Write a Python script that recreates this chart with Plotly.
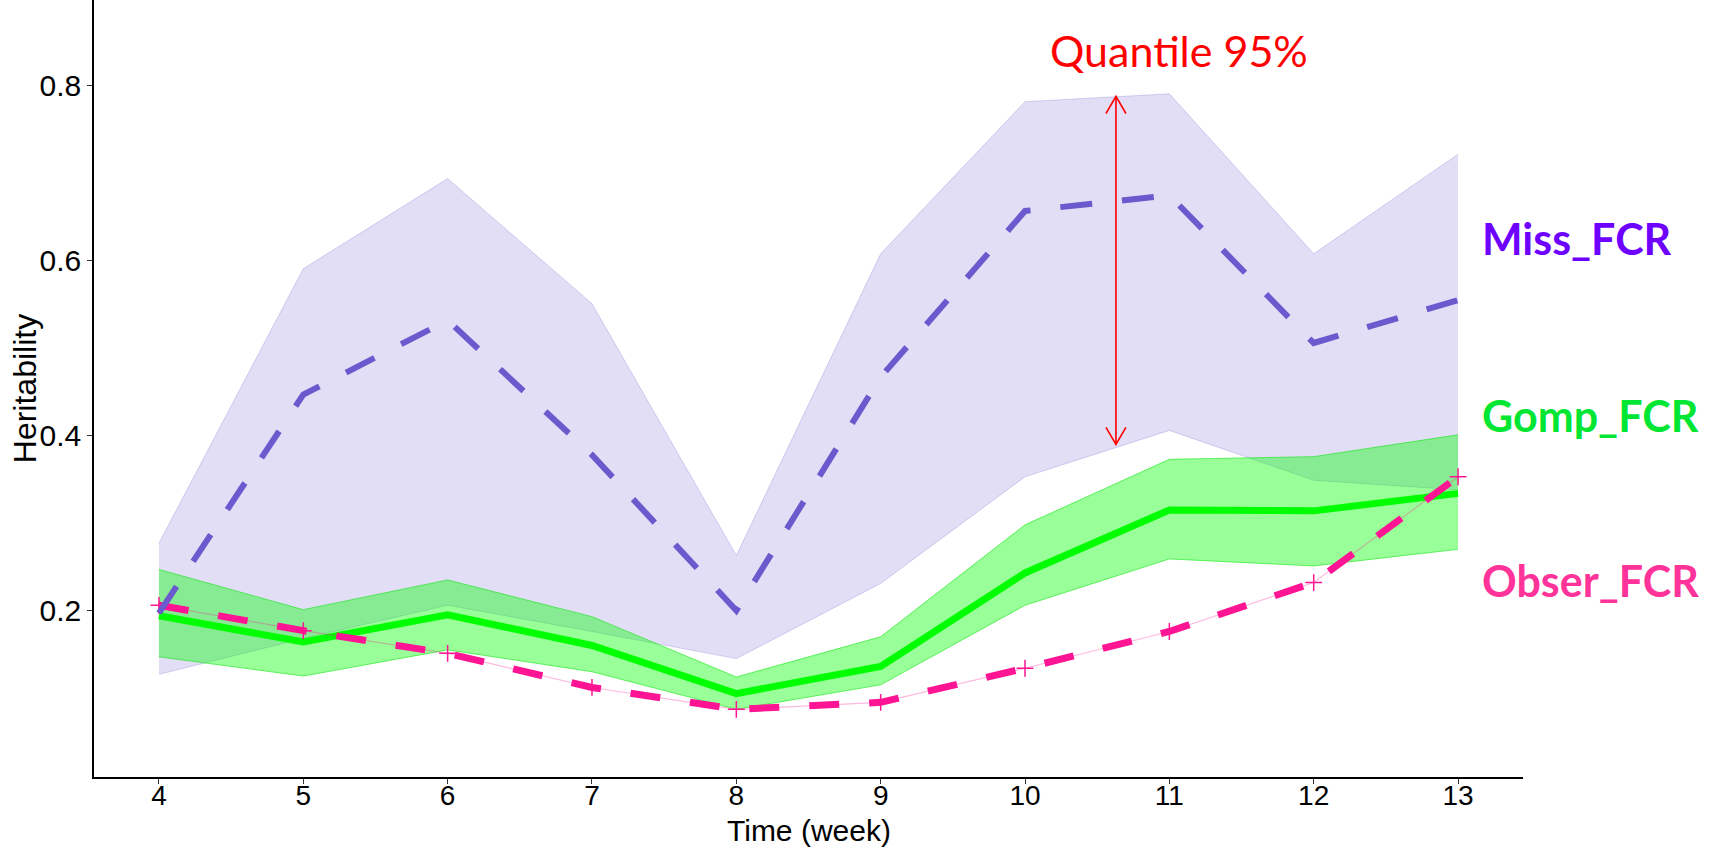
import plotly.graph_objects as go

# ---------------- data ----------------
weeks = [4, 5, 6, 7, 8, 9, 10, 11, 12, 13]

miss_mean = [0.197, 0.447, 0.532, 0.378, 0.200, 0.467, 0.657, 0.675, 0.506, 0.555]
miss_low = [0.127, 0.168, 0.206, 0.176, 0.145, 0.231, 0.353, 0.406, 0.349, 0.338]
miss_up = [0.277, 0.591, 0.694, 0.551, 0.263, 0.608, 0.782, 0.791, 0.608, 0.722]

gomp_mean = [0.194, 0.164, 0.195, 0.160, 0.105, 0.136, 0.243, 0.315, 0.314, 0.334]
gomp_low = [0.147, 0.125, 0.155, 0.130, 0.087, 0.115, 0.206, 0.259, 0.251, 0.270]
gomp_up = [0.247, 0.201, 0.235, 0.193, 0.124, 0.170, 0.298, 0.373, 0.376, 0.401]

obser = [0.206, 0.177, 0.151, 0.112, 0.087, 0.095, 0.134, 0.176, 0.232, 0.353]

y_ticks = [0.2, 0.4, 0.6, 0.8]
y_tick_labels = ["0.2", "0.4", "0.6", "0.8"]

x_title = "Time (week)"
y_title = "Heritability"

series_labels = ["Miss_FCR", "Gomp_FCR", "Obser_FCR"]
series_label_y = [0.626, 0.4235, 0.2347]

quantile_text = "Quantile 95%"
quantile_x = 10.63
quantile_low = 0.390
quantile_high = 0.788

# ---------------- styles ----------------
PURPLE = "#6A5ACD"
PURPLE_FILL = "rgba(106,90,205,0.2)"
GREEN = "#00FF00"
GREEN_FILL = "rgba(0,255,0,0.4)"
PINK = "#FF1493"
LABEL_COLORS = ["#6E00FF", "#00E632", "#FF3399"]

fig = go.Figure()

# Miss ribbon
fig.add_trace(go.Scatter(x=weeks, y=miss_up, mode="lines",
                         line=dict(color="rgba(106,90,205,0.25)", width=1),
                         showlegend=False, hoverinfo="skip"))
fig.add_trace(go.Scatter(x=weeks, y=miss_low, mode="lines", fill="tonexty",
                         fillcolor=PURPLE_FILL,
                         line=dict(color="rgba(106,90,205,0.25)", width=1),
                         showlegend=False, hoverinfo="skip"))
# Gomp ribbon
fig.add_trace(go.Scatter(x=weeks, y=gomp_up, mode="lines",
                         line=dict(color="rgba(0,230,0,0.55)", width=1),
                         showlegend=False, hoverinfo="skip"))
fig.add_trace(go.Scatter(x=weeks, y=gomp_low, mode="lines", fill="tonexty",
                         fillcolor=GREEN_FILL,
                         line=dict(color="rgba(0,230,0,0.55)", width=1),
                         showlegend=False, hoverinfo="skip"))

# Gomp line
fig.add_trace(go.Scatter(x=weeks, y=gomp_mean, mode="lines",
                         line=dict(color=GREEN, width=7),
                         name="Gomp_FCR", showlegend=False))

# Obser thin line with + markers
fig.add_trace(go.Scatter(x=weeks, y=obser, mode="lines+markers",
                         line=dict(color="rgba(255,20,147,0.3)", width=1.2),
                         marker=dict(symbol="cross-thin", size=12,
                                     line=dict(color=PINK, width=1.5)),
                         showlegend=False, hoverinfo="skip"))
# Obser thick dashed line
fig.add_trace(go.Scatter(x=weeks, y=obser, mode="lines",
                         line=dict(color=PINK, width=7, dash="30px,30px"),
                         name="Obser_FCR", showlegend=False))

# Miss dashed line
fig.add_trace(go.Scatter(x=weeks, y=miss_mean, mode="lines",
                         line=dict(color=PURPLE, width=6, dash="32px,30px"),
                         name="Miss_FCR", showlegend=False))

# Quantile double arrow
hx = 0.069
hy = 0.0195
arrow_x = [quantile_x, quantile_x, None,
           quantile_x - hx, quantile_x, quantile_x + hx, None,
           quantile_x - hx, quantile_x, quantile_x + hx]
arrow_y = [quantile_low, quantile_high, None,
           quantile_high - hy, quantile_high, quantile_high - hy, None,
           quantile_low + hy, quantile_low, quantile_low + hy]
fig.add_trace(go.Scatter(x=arrow_x, y=arrow_y, mode="lines",
                         line=dict(color="#FF0000", width=1.6),
                         showlegend=False, hoverinfo="skip"))

annotations = []
for lab, ly, col in zip(series_labels, series_label_y, LABEL_COLORS):
    annotations.append(dict(x=13.155, y=ly, xref="x", yref="y", text="<b>%s</b>" % lab,
                            showarrow=False, xanchor="left", yanchor="middle",
                            font=dict(family="Lato", size=43, color=col)))
annotations.append(dict(x=11.07, y=0.841, xref="x", yref="y", text=quantile_text,
                        showarrow=False, xanchor="center", yanchor="middle",
                        font=dict(family="Lato", size=43, color="#FF0000")))
# axis titles
annotations.append(dict(x=0.5, y=-0.0685, xref="paper", yref="paper", text=x_title,
                        showarrow=False, xanchor="center", yanchor="middle",
                        font=dict(family="Liberation Sans, Arial", size=30, color="black")))
annotations.append(dict(x=-0.0485, y=0.5, xref="paper", yref="paper", text=y_title,
                        showarrow=False, xanchor="center", yanchor="middle", textangle=-90,
                        font=dict(family="Liberation Sans, Arial", size=32, color="black")))

fig.update_layout(
    width=1715, height=849,
    margin=dict(l=94, r=192, t=0, b=72),
    paper_bgcolor="white", plot_bgcolor="white",
    font=dict(family="Liberation Sans, Arial", color="black"),
    annotations=annotations,
    showlegend=False,
)
fig.update_xaxes(range=[3.55, 13.45], tickvals=weeks, ticktext=[str(w) for w in weeks],
                 showgrid=False, zeroline=False, showline=True, linecolor="black", linewidth=1.5,
                 ticks="outside", ticklen=5, tickwidth=1.2, tickcolor="#333333",
                 tickfont=dict(size=28, color="black"), ticklabelstandoff=-12)
fig.update_yaxes(range=[0.0096, 0.8983], tickvals=y_ticks, ticktext=y_tick_labels,
                 showgrid=False, zeroline=False, showline=True, linecolor="black", linewidth=1.5,
                 ticks="outside", ticklen=5, tickwidth=1.2, tickcolor="#333333",
                 tickfont=dict(size=30, color="black"))

fig.write_html("out.html")
